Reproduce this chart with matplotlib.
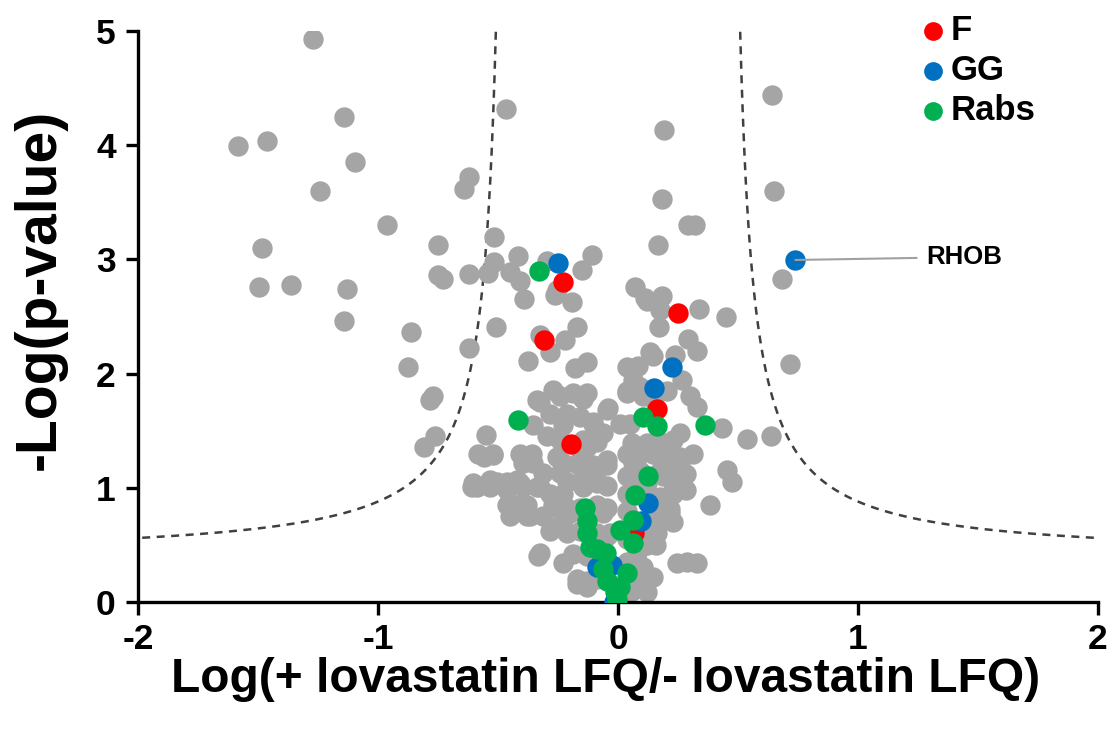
import numpy as np
import matplotlib
matplotlib.use("Agg")
import matplotlib.pyplot as plt

# ---------------- data ----------------
gray_x = [
    -1.272, -1.140, -1.585, -1.462, -1.095, -1.240, -0.620, -0.640, -0.964, -1.485,
    -0.751, -0.517, -0.467, -1.496, -1.362, -1.130, -0.751, -0.728, -0.620, -0.517,
    -0.540, -1.140, -0.862, -0.874, -0.770, -0.785, -0.620, -0.507, -0.762, -0.808,
    -0.551, -0.557, -0.520, -0.607, -0.530, -0.450, -0.450,
    -0.415, -0.450, -0.410, -0.390, -0.297, -0.262, -0.255, -0.193, -0.151, -0.107,
    -0.325, -0.283, -0.220, -0.172, -0.375, -0.180, -0.130,
    -0.270, -0.339, -0.186, -0.130, -0.047, -0.283, -0.214, -0.158, -0.103, -0.061,
    -0.297, -0.130, -0.408, -0.360, -0.582, -0.520, -0.255, -0.172, -0.047, -0.311,
    -0.242, -0.422, -0.533, -0.603, -0.103,
    -0.589, -0.533, -0.450, -0.395, -0.339, -0.283, -0.228, -0.145, -0.089,
    -0.436, -0.367, -0.311, -0.255, -0.200, -0.061, -0.033, -0.228, -0.255,
    -0.332, -0.228, -0.172, -0.464, -0.408, -0.325, -0.380, -0.325, -0.130,
    -0.040, -0.075, -0.130, -0.089,
    -0.325, -0.242, -0.146, -0.354, -0.229, -0.104, -0.242, -0.146, -0.089,
    -0.396, -0.354, -0.229, -0.158, -0.104, -0.046, -0.504, -0.463, -0.212,
    -0.158, -0.046, -0.463, -0.421, -0.379, -0.271, -0.212, -0.158, -0.089, -0.046,
    -0.283, -0.212, -0.158, -0.089, -0.046, -0.186, -0.130, -0.075,
    -0.171, -0.130, -0.089, -0.021, 0.0375, 0.092,
    0.071, 0.112, 0.168, 0.193, 0.182, 0.290, 0.320, 0.640, 0.650, 0.683,
    0.717, 0.636, 0.539, 0.432, 0.450, 0.339, 0.182, 0.120, 0.175, 0.172,
    0.293, 0.328, 0.133, 0.085, 0.237, 0.265, 0.105, 0.300, 0.328, 0.147,
    0.036, 0.064, 0.036,
    0.258, 0.057, 0.120, 0.203, 0.062, 0.203, 0.258, 0.453, 0.474, 0.036,
    0.230, 0.036, 0.230, 0.217, 0.383, 0.133, 0.120, 0.078, 0.105, 0.120,
    0.245, 0.286, 0.328, 0.050, 0.064, 0.008, 0.064, 0.120, 0.189, 0.230,
    0.258, 0.258, 0.230, 0.175, 0.217, 0.161, 0.161,
    0.0375, 0.092, 0.146, 0.204, 0.0375, 0.092, 0.146, 0.204, 0.3125,
    0.092, 0.175, 0.285, 0.120, 0.175, 0.285, 0.0375, 0.175, 0.230,
    0.0375, 0.120, 0.160, 0.0375, 0.092, 0.146, 0.020, 0.060,
]
gray_y = [
    4.93, 4.25, 3.99, 4.04, 3.85, 3.60, 3.72, 3.62, 3.30, 3.10,
    3.13, 3.20, 4.32, 2.76, 2.78, 2.74, 2.86, 2.83, 2.87, 2.98,
    2.88, 2.46, 2.36, 2.06, 1.80, 1.77, 2.22, 2.41, 1.45, 1.36,
    1.46, 1.27, 1.29, 1.01, 1.02, 0.83, 0.75,
    3.03, 2.89, 2.81, 2.65, 2.99, 2.69, 2.73, 2.63, 2.91, 3.04,
    2.34, 2.19, 2.29, 2.41, 2.11, 2.05, 2.10,
    1.86, 1.77, 1.83, 1.83, 1.68, 1.65, 1.65, 1.62, 1.58, 1.48,
    1.45, 1.36, 1.30, 1.30, 1.30, 1.30, 1.27, 1.21, 1.24, 1.13,
    1.13, 1.07, 1.07, 1.04, 1.10,
    1.01, 1.01, 1.04, 1.01, 1.01, 0.95, 0.95, 1.01, 1.04,
    0.83, 0.75, 0.75, 0.66, 0.78, 0.78, 0.60, 0.72, 0.83,
    0.40, 0.34, 0.16, 0.98, 1.04, 1.01, 0.75, 0.43, 0.13,
    1.70, 1.48, 1.07, 1.16,
    1.75, 1.80, 1.78, 1.55, 1.55, 1.56, 1.42, 1.42, 1.40,
    1.22, 1.22, 1.22, 1.24, 1.20, 1.20, 1.05, 1.05, 1.05,
    1.05, 1.02, 0.85, 0.85, 0.85, 0.85, 0.82, 0.82, 0.85, 0.82,
    0.62, 0.60, 0.62, 0.60, 0.58, 0.42, 0.40, 0.40,
    0.20, 0.18, 0.20, 0.15, 0.20, 0.20,
    2.76, 2.66, 3.13, 4.13, 3.53, 3.30, 3.30, 4.44, 3.60, 2.83,
    2.08, 1.45, 1.43, 1.52, 2.50, 2.57, 2.68, 2.64, 2.56, 2.41,
    2.30, 2.20, 2.19, 2.07, 2.16, 1.94, 1.80, 1.80, 1.71, 2.15,
    2.06, 1.94, 1.83,
    1.48, 1.39, 1.39, 1.39, 1.22, 1.24, 1.23, 1.16, 1.05, 1.10,
    1.10, 0.95, 0.95, 0.81, 0.85, 0.72, 0.57, 0.43, 0.31, 0.09,
    0.34, 0.35, 0.34, 1.56, 1.36, 1.56, 1.07, 1.04, 1.10, 0.98,
    1.18, 1.27, 1.42, 1.39, 0.78, 0.69, 0.60,
    1.85, 1.88, 1.78, 1.85, 1.30, 1.30, 1.30, 1.33, 1.30,
    1.15, 1.15, 1.12, 0.95, 0.92, 0.98, 0.80, 0.80, 0.70,
    0.55, 0.50, 0.50, 0.35, 0.25, 0.22, 0.05, 0.10,
]

f_x = [-0.228, -0.308, 0.249, 0.162, -0.196, 0.066]
f_y = [2.80, 2.29, 2.53, 1.69, 1.38, 0.60]

gg_x = [-0.251, 0.739, 0.227, 0.149, 0.126, 0.094, -0.089, -0.026, -0.015]
gg_y = [2.97, 2.995, 2.06, 1.875, 0.87, 0.71, 0.31, 0.32, 0.00]

rabs_x = [-0.329, -0.415, 0.105, 0.161, 0.362, 0.126, 0.071, 0.064, 0.008,
          0.062, -0.137, -0.130, -0.128, -0.117, -0.089, -0.050, -0.061, -0.047,
          0.036, -0.012, 0.008, -0.004]
rabs_y = [2.90, 1.59, 1.62, 1.54, 1.55, 1.10, 0.94, 0.72, 0.63,
          0.52, 0.82, 0.71, 0.60, 0.48, 0.46, 0.43, 0.29, 0.18,
          0.25, 0.09, 0.13, 0.03]

x_ticks = [-2, -1, 0, 1, 2]
y_ticks = [0, 1, 2, 3, 4, 5]

# significance threshold curve parameters (y = a + c / (|x| - x0))
curve_a, curve_c, curve_x0 = 0.385, 0.272, 0.45

# ---------------- figure ----------------
plt.rcParams['font.family'] = ['Liberation Sans', 'DejaVu Sans']
plt.rcParams['font.weight'] = 'bold'

fig = plt.figure(figsize=(11.15, 7.35), dpi=100)
ax = fig.add_axes([138 / 1115, 133 / 735, 960 / 1115, 571 / 735])

# threshold curves
for sgn in (-1, 1):
    xs = np.linspace(curve_x0 + 0.0001, 2.0, 2000)
    ys = curve_a + curve_c / (xs - curve_x0)
    m = ys <= 5.0
    ax.plot(sgn * xs[m], ys[m], ls=(0, (3.2, 2.6)), color='#404040', lw=1.8, zorder=1)

ms = 215
ax.scatter(gray_x, gray_y, s=ms, color='#A5A5A5', linewidths=0, zorder=2)
ax.scatter(f_x, f_y, s=ms, color='#FF0000', linewidths=0, zorder=3, label='F')
ax.scatter(gg_x, gg_y, s=ms, color='#0070C0', linewidths=0, zorder=4, label='GG')
ax.scatter(rabs_x, rabs_y, s=ms, color='#00B050', linewidths=0, zorder=5, label='Rabs')

# RHOB annotation
ax.annotate('RHOB', xy=(gg_x[1], gg_y[1]), xytext=(1.285, 3.02),
            fontsize=18.5, fontweight='bold', va='center', ha='left',
            arrowprops=dict(arrowstyle='-', color='#A0A0A0', lw=1.5,
                            shrinkA=5, shrinkB=0),
            zorder=6)

ax.set_xlim(-2, 2)
ax.set_ylim(0, 5)
ax.set_xticks(x_ticks)
ax.set_yticks(y_ticks)
ax.set_xticklabels([str(t) for t in x_ticks])
ax.set_yticklabels([str(t) for t in y_ticks])

for s in ('top', 'right'):
    ax.spines[s].set_visible(False)
for s in ('left', 'bottom'):
    ax.spines[s].set_linewidth(2.4)
    ax.spines[s].set_color('black')
ax.tick_params(axis='both', direction='out', length=9, width=2.4,
               labelsize=25.5, colors='black')
ax.tick_params(axis='x', pad=6)
ax.tick_params(axis='y', pad=7)
for lab in ax.get_xticklabels() + ax.get_yticklabels():
    lab.set_fontweight('bold')

ax.set_xlabel('Log(+ lovastatin LFQ/- lovastatin LFQ)', fontsize=34.5, fontweight='bold')
ax.set_ylabel('-Log(p-value)', fontsize=41, fontweight='bold')
ax.xaxis.label.set_va('center')
ax.yaxis.label.set_va('center')
ax.xaxis.set_label_coords(0.4875, -0.1366)
ax.yaxis.set_label_coords(-0.102, 0.548)

leg = ax.legend(loc='upper left', bbox_to_anchor=(919 / 1115, 1 - 14 / 735),
                bbox_transform=fig.transFigure, frameon=False,
                handletextpad=0.1, labelspacing=0.2, borderpad=0, borderaxespad=0,
                handlelength=0.8, markerscale=0.92, prop={'weight': 'bold', 'size': 25})

fig.savefig('out.png', dpi=100)
